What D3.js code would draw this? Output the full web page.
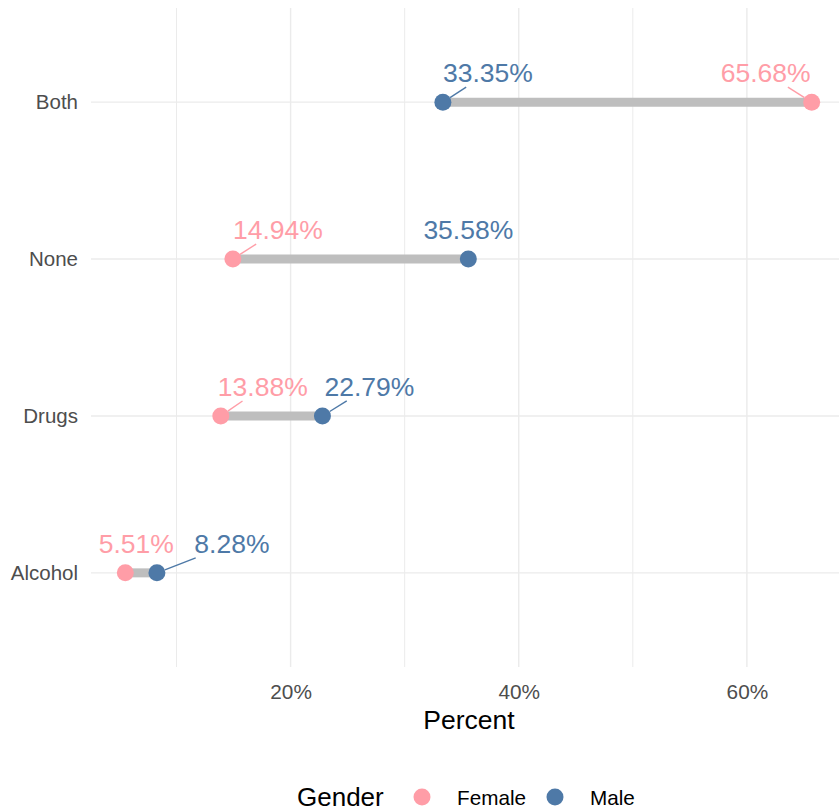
<!DOCTYPE html>
<html>
<head>
<meta charset="utf-8">
<script src="https://cdn.jsdelivr.net/npm/d3@7"></script>
<style>
  body { margin: 0; background: #fff; }
  text { font-family: "Liberation Sans", Arial, sans-serif; }
</style>
</head>
<body>
<div id="chart"></div>
<script>
// categories, top to bottom
var categories = ["Both", "None", "Drugs", "Alcohol"];
var female = [65.68, 14.94, 13.88, 5.51];
var male = [33.35, 35.58, 22.79, 8.28];
var genders = ["Female", "Male"];
var xTicks = [20, 40, 60];
var xMinor = [10, 30, 50];

// label placement (pixels from the dot), same order as categories
var femaleShift = [-46, 45, 42, 11];
var maleShift = [45, 0, 47, 75];

var width = 839, height = 812;
var colors = { Female: "#FF9DA7", Male: "#4E79A7" };

var svg = d3.select("#chart").append("svg")
    .attr("width", width)
    .attr("height", height);

// x scale with the usual 5% expansion
var all = female.concat(male);
var lo = d3.min(all), hi = d3.max(all);
var pad = (hi - lo) * 0.05;
var x = d3.scaleLinear().domain([lo - pad, hi + pad]).range([91, 846]);
var y = d3.scalePoint().domain(categories).range([8, 667]).padding(0.6);

var grid = svg.append("g");
grid.selectAll(".minor").data(xMinor).join("line")
    .attr("x1", function (d) { return x(d); }).attr("x2", function (d) { return x(d); })
    .attr("y1", 8).attr("y2", 667)
    .attr("stroke", "#ebebeb").attr("stroke-width", 1);
grid.selectAll(".major").data(xTicks).join("line")
    .attr("x1", function (d) { return x(d); }).attr("x2", function (d) { return x(d); })
    .attr("y1", 8).attr("y2", 667)
    .attr("stroke", "#ebebeb").attr("stroke-width", 1.4);
grid.selectAll(".hmajor").data(categories).join("line")
    .attr("x1", 91).attr("x2", width)
    .attr("y1", function (d) { return y(d); }).attr("y2", function (d) { return y(d); })
    .attr("stroke", "#ebebeb").attr("stroke-width", 1.4);

// axes
var xAxis = svg.append("g")
    .attr("transform", "translate(0,681)")
    .call(d3.axisBottom(x).tickValues(xTicks).tickSize(0).tickFormat(function (d) { return d + "%"; }));
xAxis.select(".domain").remove();
xAxis.selectAll("text").attr("font-size", 20.8).attr("fill", "#4d4d4d")
    .attr("font-family", "Liberation Sans, Arial, sans-serif");

var yAxis = svg.append("g")
    .attr("transform", "translate(81,0)")
    .call(d3.axisLeft(y).tickSize(0));
yAxis.select(".domain").remove();
yAxis.selectAll("text").attr("font-size", 20.5).attr("fill", "#4d4d4d")
    .attr("font-family", "Liberation Sans, Arial, sans-serif");

svg.append("text")
    .attr("x", 469).attr("y", 729)
    .attr("text-anchor", "middle")
    .attr("font-size", 26.5).attr("fill", "#000")
    .text("Percent");

// dumbbell bars
svg.append("g").selectAll("line").data(categories).join("line")
    .attr("x1", function (d, i) { return x(female[i]); })
    .attr("x2", function (d, i) { return x(male[i]); })
    .attr("y1", function (d) { return y(d); })
    .attr("y2", function (d) { return y(d); })
    .attr("stroke", "#bebebe")
    .attr("stroke-width", 9);

var points = [];
categories.forEach(function (c, i) {
  points.push({ cat: c, g: "Female", v: female[i], dx: femaleShift[i] });
  points.push({ cat: c, g: "Male", v: male[i], dx: maleShift[i] });
});

var r = 8.5;
// label segments, clipped to the label box
var segs = svg.append("g");
var dotsG = svg.append("g");
var labelsG = svg.append("g");

points.forEach(function (p) {
  var px = x(p.v), py = y(p.cat);
  var lx = px + p.dx, ly = py - 29;
  var vx = lx - px, vy = ly - py;
  var len = Math.sqrt(vx * vx + vy * vy);
  var t = -15 / vy; // reach box bottom
  var endLen = len * t;
  if (endLen - r > 9) {
    segs.append("line")
      .attr("x1", px + vx / len * r).attr("y1", py + vy / len * r)
      .attr("x2", px + vx * t).attr("y2", py + vy * t)
      .attr("stroke", colors[p.g]).attr("stroke-width", 1.4);
  }
  labelsG.append("text")
    .attr("x", lx).attr("y", py - 20)
    .attr("text-anchor", "middle")
    .attr("font-size", 26.5)
    .attr("fill", colors[p.g])
    .text(p.v.toFixed(2) + "%");
});

dotsG.selectAll("circle").data(points).join("circle")
    .attr("cx", function (d) { return x(d.v); })
    .attr("cy", function (d) { return y(d.cat); })
    .attr("r", r)
    .attr("fill", function (d) { return colors[d.g]; });

// legend
var legend = svg.append("g");
legend.append("text")
    .attr("x", 297).attr("y", 806)
    .attr("font-size", 26).attr("fill", "#000")
    .text("Gender");
var legX = [422, 555];
genders.forEach(function (g, i) {
  legend.append("circle")
    .attr("cx", legX[i]).attr("cy", 797).attr("r", r)
    .attr("fill", colors[g]);
  legend.append("text")
    .attr("x", legX[i] + 35).attr("y", 805)
    .attr("font-size", 20.7).attr("fill", "#000")
    .text(g);
});
</script>
</body>
</html>
